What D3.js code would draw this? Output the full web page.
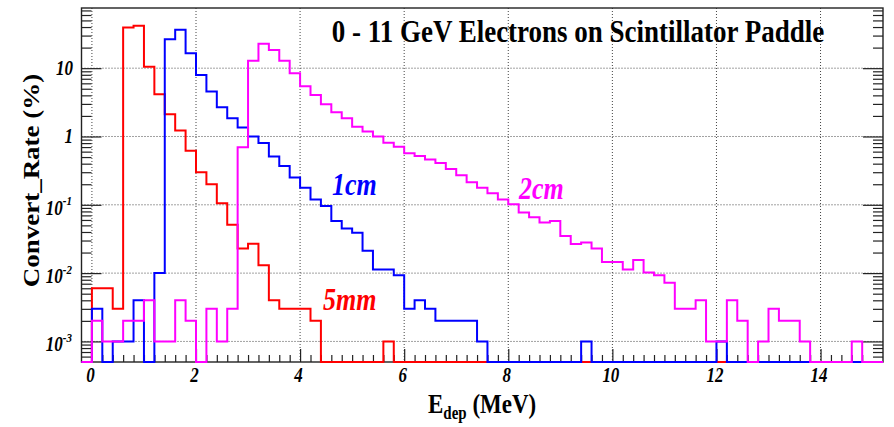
<!DOCTYPE html>
<html>
<head>
<meta charset="utf-8">
<script src="https://cdn.jsdelivr.net/npm/d3@7"></script>
<style>
  html, body { margin: 0; padding: 0; background: #fff; }
  svg { display: block; }
  text { font-family: "Liberation Serif", "Times New Roman", serif; font-weight: bold; }
</style>
</head>
<body>
<svg id="chart" width="894" height="427"></svg>
<script>
// Histogram binning (MeV)
const binLow = -0.2;
const binWidth = 0.2;

// Conversion rate (%) per bin, one array per paddle thickness
const rate5mm = [
  0, 0.006, 0.006, 0.003, 39.4, 41.7, 10.5, 4.16, 2.12, 1.22,
  0.62, 0.30, 0.20, 0.105, 0.051, 0.023, 0.027, 0.013, 0.004, 0.003,
  0.003, 0.003, 0.002, 0, 0, 0, 0, 0, 0, 0.001,
  0, 0, 0, 0, 0, 0, 0, 0, 0, 0,
  0, 0, 0, 0, 0, 0, 0, 0, 0, 0,
  0, 0, 0, 0, 0, 0, 0, 0, 0, 0,
  0, 0, 0, 0, 0, 0, 0, 0, 0, 0,
  0, 0, 0, 0, 0, 0, 0
];
const rate1cm = [
  0, 0.003, 0, 0.001, 0.001, 0.004, 0, 0.010, 26.6, 36.4,
  16.6, 7.97, 4.54, 2.68, 1.85, 1.35, 1.0, 0.80, 0.51, 0.37,
  0.25, 0.178, 0.12, 0.096, 0.058, 0.045, 0.039, 0.0213, 0.0113, 0.0113,
  0.0093, 0.003, 0.004, 0.003, 0.002, 0.002, 0.002, 0.002, 0.001, 0,
  0, 0, 0, 0, 0, 0, 0, 0, 0.001, 0,
  0, 0, 0, 0, 0, 0, 0, 0, 0, 0,
  0, 0.001, 0, 0, 0, 0, 0, 0, 0, 0,
  0, 0, 0, 0, 0, 0, 0
];
const rate2cm = [
  0, 0.002, 0.001, 0.001, 0.002, 0.002, 0.004, 0.001, 0.001, 0.004,
  0.002, 0, 0.003, 0.001, 0.003, 0.695, 12.8, 22.7, 18.5, 12.8,
  8.45, 5.45, 4.06, 2.97, 2.26, 1.85, 1.39, 1.18, 1.0, 0.81,
  0.71, 0.57, 0.52, 0.46, 0.41, 0.335, 0.27, 0.214, 0.177, 0.147,
  0.12, 0.102, 0.077, 0.066, 0.055, 0.058, 0.035, 0.0267, 0.028, 0.023,
  0.0146, 0.0146, 0.0113, 0.0155, 0.0102, 0.0093, 0.0072, 0.003, 0.003, 0.004,
  0.001, 0.001, 0.004, 0.002, 0, 0.001, 0.003, 0.002, 0.002, 0.001,
  0, 0, 0, 0, 0.001, 0, 0
];

const seriesNames = ["5mm", "1cm", "2cm"];
const seriesColors = ["#ff0000", "#0000ff", "#ff00ff"];

const xTickValues = [0, 2, 4, 6, 8, 10, 12, 14];
const xTickLabels = ["0", "2", "4", "6", "8", "10", "12", "14"];
const yTickValues = [1e-3, 1e-2, 1e-1, 1, 10];
const yTickBase = ["10", "10", "10", "1", "10"];
const yTickExp = ["-3", "-2", "-1", "", ""];

const titleText = "0 - 11 GeV Electrons on Scintillator Paddle";
const yTitleText = "Convert_Rate (%)";

// ---- layout ----
const frame = { left: 81.5, right: 883, top: 8, bottom: 362 };
const S = 1.2;               // vertical stretch of the lettering
const xDomain = [-0.2, 15.2];
const yDomain = [5e-4, 76];

const svg = d3.select("#chart");

const x = d3.scaleLinear().domain(xDomain).range([frame.left, frame.right]);
const y = d3.scaleLog().domain(yDomain).range([frame.bottom, frame.top]).clamp(true);

function label(g, px, py, str, size, opts = {}) {
  const t = g.append("text")
    .attr("transform", `translate(${px},${py}) scale(1,${S})` + (opts.rotate ? ` rotate(${opts.rotate})` : ""))
    .attr("font-size", size)
    .attr("text-anchor", opts.anchor || "start")
    .attr("fill", opts.fill || "#000")
    .style("font-style", opts.italic ? "italic" : "normal");
  if (str !== null) t.text(str);
  return t;
}

// ---- grid ----
const grid = svg.append("g").attr("stroke", "#444").attr("stroke-width", 1)
  .attr("stroke-dasharray", "1,2").attr("fill", "none");
grid.selectAll("line.vx").data(xTickValues).join("line")
  .attr("x1", d => x(d)).attr("x2", d => x(d))
  .attr("y1", frame.top).attr("y2", frame.bottom);
grid.selectAll("line.hy").data(yTickValues).join("line")
  .attr("x1", frame.left).attr("x2", frame.right)
  .attr("y1", d => y(d)).attr("y2", d => y(d));

// ---- ticks ----
const xMinor = d3.range(1, 76).map(i => +(binLow + i * binWidth).toFixed(2))
  .filter(v => !xTickValues.includes(v));
const yMinor = [];
[-4, -3, -2, -1, 0, 1].forEach(e => {
  for (let m = 2; m <= 9; m++) {
    const v = m * Math.pow(10, e);
    if (v > yDomain[0] && v < yDomain[1]) yMinor.push(v);
  }
});

function styleAxis(g) {
  g.select(".domain").remove();
  g.selectAll(".tick line").attr("stroke", "#222").attr("stroke-width", 1.2);
  g.selectAll(".tick text").remove();
}

svg.append("g").attr("transform", `translate(0,${frame.bottom})`)
  .call(d3.axisBottom(x).tickValues(xTickValues).tickSize(-13).tickFormat(""))
  .call(styleAxis);
svg.append("g").attr("transform", `translate(0,${frame.bottom})`)
  .call(d3.axisBottom(x).tickValues(xMinor).tickSize(-7).tickFormat(""))
  .call(styleAxis);
svg.append("g").attr("transform", `translate(${frame.left},0)`)
  .call(d3.axisLeft(y).tickValues(yTickValues).tickSize(-20).tickFormat(""))
  .call(styleAxis);
svg.append("g").attr("transform", `translate(${frame.left},0)`)
  .call(d3.axisLeft(y).tickValues(yMinor).tickSize(-10).tickFormat(""))
  .call(styleAxis);
svg.append("g").attr("transform", `translate(${frame.right},0)`)
  .call(d3.axisRight(y).tickValues(yTickValues).tickSize(-20).tickFormat(""))
  .call(styleAxis);
svg.append("g").attr("transform", `translate(${frame.right},0)`)
  .call(d3.axisRight(y).tickValues(yMinor).tickSize(-10).tickFormat(""))
  .call(styleAxis);

// ---- frame ----
svg.append("rect")
  .attr("x", frame.left).attr("y", frame.top)
  .attr("width", frame.right - frame.left).attr("height", frame.bottom - frame.top)
  .attr("fill", "none").attr("stroke", "#222").attr("stroke-width", 1.4);

// ---- histograms ----
function stepPoints(values) {
  const pts = [];
  values.forEach((v, i) => {
    const lo = binLow + i * binWidth;
    pts.push([lo, v], [lo + binWidth, v]);
  });
  return pts;
}
const line = d3.line()
  .x(d => x(d[0]))
  .y(d => y(Math.max(d[1], yDomain[0])));

[rate5mm, rate1cm, rate2cm].forEach((vals, k) => {
  svg.append("path")
    .datum(stepPoints(vals))
    .attr("d", line)
    .attr("fill", "none")
    .attr("stroke", seriesColors[k])
    .attr("stroke-width", 2)
    .attr("stroke-linejoin", "miter");
});

// ---- tick labels ----
const labels = svg.append("g");
xTickValues.forEach((v, i) => {
  label(labels, x(v) - 1.5, 382, xTickLabels[i], 17, { anchor: "middle", italic: true });
});
yTickValues.forEach((v, i) => {
  if (yTickExp[i] === "") {
    label(labels, 73, y(v) + 7, yTickBase[i], 17, { anchor: "end", italic: true });
  } else {
    const t = label(labels, 72, y(v) + 10, null, 17, { anchor: "end", italic: true });
    t.append("tspan").text(yTickBase[i]);
    t.append("tspan").attr("dy", -8).attr("font-size", 11).text(yTickExp[i]);
  }
});

// ---- titles ----
label(svg, 578, 42, titleText, 27, { anchor: "middle" });

const xt = label(svg, 428, 413, null, 23);
xt.append("tspan").text("E");
xt.append("tspan").attr("font-size", 15).attr("dy", 5).text("dep");
xt.append("tspan").attr("dy", -5).text(" (MeV)");

label(svg, 39, 180.5, yTitleText, 22.5, { anchor: "middle", rotate: -90 });

// ---- curve labels ----
const curveLabelPos = [[323, 310], [332, 195], [519, 199]];
seriesNames.forEach((name, k) => {
  label(svg, curveLabelPos[k][0], curveLabelPos[k][1], name, 26, { italic: true, fill: seriesColors[k] });
});
</script>
</body>
</html>
